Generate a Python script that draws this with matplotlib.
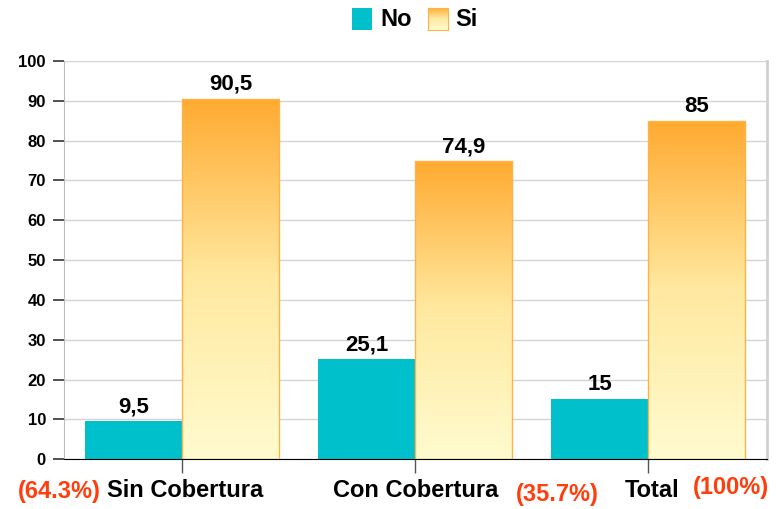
import numpy as np
import matplotlib.pyplot as plt
from matplotlib.colors import LinearSegmentedColormap
from matplotlib.patches import Rectangle
from matplotlib import font_manager

nombres = {f.name for f in font_manager.fontManager.ttflist}
fuente = 'Liberation Sans Narrow' if 'Liberation Sans Narrow' in nombres else 'Liberation Sans'
plt.rcParams['font.family'] = [fuente, 'DejaVu Sans']
plt.rcParams['font.weight'] = 'bold'

categorias = ['Sin Cobertura', 'Con Cobertura', 'Total']
porcentajes = ['(64.3%)', '(35.7%)', '(100%)']
valores_no = [9.5, 25.1, 15]
valores_si = [90.5, 74.9, 85]
etiq_no = ['9,5', '25,1', '15']
etiq_si = ['90,5', '74,9', '85']

color_no = '#00C0CC'
borde_si = '#FFB347'
rojo = '#FF3D0D'
grad = LinearSegmentedColormap.from_list('si', ['#FFFBCF', '#FFE9A0', '#FFAA30'])

fig = plt.figure(figsize=(7.76, 5.09), dpi=100)
ax = fig.add_axes([0.0825, 0.098, 0.906, 0.782])

x = np.arange(len(categorias))
w = 0.416
ax.bar(x - w / 2, valores_no, w, color=color_no, zorder=3)
barras_si = ax.bar(x + w / 2, valores_si, w, color='none', edgecolor=borde_si, linewidth=1, zorder=4)

# degradado dentro de las barras "Si"
gradiente = np.linspace(0, 1, 256).reshape(-1, 1)
for b in barras_si:
    x0, y0 = b.get_x(), b.get_y()
    im = ax.imshow(gradiente, cmap=grad, origin='lower', aspect='auto',
                   extent=[x0, x0 + b.get_width(), y0, y0 + b.get_height()], zorder=3.5)
    im.set_clip_path(Rectangle((x0, y0), b.get_width(), b.get_height(), transform=ax.transData))

for i in range(len(categorias)):
    ax.text(x[i] - w / 2, valores_no[i] + 1.0, etiq_no[i], ha='center', va='bottom',
            fontsize=16, fontweight='bold', zorder=5)
    ax.text(x[i] + w / 2, valores_si[i] + 1.0, etiq_si[i], ha='center', va='bottom',
            fontsize=16, fontweight='bold', zorder=5)

ax.set_xlim(-0.506, 2.51)
ax.set_ylim(0, 100)
ax.set_yticks(range(0, 101, 10))
ax.tick_params(axis='y', labelsize=12, length=8, width=1.2, color='#333333', pad=5)
ax.set_xticks(x)
ax.set_xticklabels([])
ax.tick_params(axis='x', length=10, width=1, color='#555555')
ax.grid(axis='y', color='#d4d4d4', linewidth=1, zorder=0)
ax.spines['top'].set_visible(False)
ax.spines['right'].set_color('#d0d0d0')
ax.spines['right'].set_linewidth(2)
ax.spines['left'].set_color('#bbbbbb')
ax.spines['bottom'].set_color('black')
ax.spines['bottom'].set_zorder(6)

# etiquetas de categoria y porcentajes
tr = ax.get_xaxis_transform()
kw = dict(transform=tr, va='center', fontsize=17, fontweight='bold')
ax.text(0.013, -0.078, categorias[0], ha='center', **kw)
ax.text(-0.35, -0.082, porcentajes[0], ha='right', color=rojo, **kw)
ax.text(1.004, -0.078, categorias[1], ha='center', **kw)
ax.text(1.433, -0.088, porcentajes[1], ha='left', color=rojo, **kw)
ax.text(2.016, -0.078, categorias[2], ha='center', **kw)
ax.text(2.19, -0.072, porcentajes[2], ha='left', color=rojo, **kw)

# leyenda
fig.patches.append(Rectangle((352 / 776, 1 - 30 / 509), 20 / 776, 22 / 509, transform=fig.transFigure,
                             facecolor=color_no, edgecolor='none'))
fig.text(380 / 776, 1 - 20 / 509, 'No', ha='left', va='center', fontsize=17, fontweight='bold')
ax_leg = fig.add_axes([428 / 776, 1 - 30 / 509, 20 / 776, 22 / 509])
ax_leg.imshow(gradiente, cmap=grad, origin='lower', aspect='auto', extent=[0, 1, 0, 1])
ax_leg.set_xticks([])
ax_leg.set_yticks([])
for s in ax_leg.spines.values():
    s.set_color(borde_si)
fig.text(455 / 776, 1 - 20 / 509, 'Si', ha='left', va='center', fontsize=17, fontweight='bold')

fig.savefig('out.png', dpi=100)
